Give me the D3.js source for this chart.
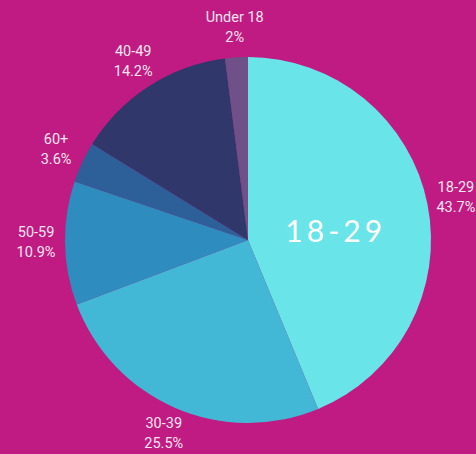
<!DOCTYPE html>
<html>
<head>
<meta charset="utf-8">
<script src="https://cdn.jsdelivr.net/npm/d3@7"></script>
<style>
  html, body { margin: 0; padding: 0; background: #C01B82; }
  svg { display: block; }
</style>
</head>
<body>
<svg id="chart" width="476" height="454"></svg>
<script>
const categories = ["18-29", "30-39", "50-59", "60+", "40-49", "Under 18"];
const values = [43.7, 25.5, 10.9, 3.6, 14.2, 2];
const valueLabels = ["43.7%", "25.5%", "10.9%", "3.6%", "14.2%", "2%"];
const colors = ["#69E4E8", "#42B8D6", "#2E8CBE", "#2D5F98", "#2F376B", "#6F5088"];
const highlight = "18-29";

const width = 476, height = 454;
const cx = 248, cy = 240, radius = 183, labelRadius = 212;

const svg = d3.select("#chart");
svg.append("rect").attr("width", width).attr("height", height).attr("fill", "#C01B82");

const data = categories.map((c, i) => ({ cat: c, value: values[i], label: valueLabels[i], color: colors[i] }));

const pie = d3.pie().value(d => d.value).sort(null);
const arcs = pie(data);
const arc = d3.arc().innerRadius(0).outerRadius(radius);
const labelArc = d3.arc().innerRadius(labelRadius).outerRadius(labelRadius);

const g = svg.append("g").attr("transform", `translate(${cx},${cy})`);

g.selectAll("path.slice")
  .data(arcs)
  .join("path")
  .attr("class", "slice")
  .attr("d", arc)
  .attr("fill", d => d.data.color);

const labels = g.selectAll("g.lbl")
  .data(arcs)
  .join("g")
  .attr("class", "lbl")
  .attr("transform", d => `translate(${labelArc.centroid(d)})`);

labels.append("text")
  .attr("text-anchor", "middle")
  .attr("dominant-baseline", "middle")
  .attr("y", -10)
  .attr("font-family", "Roboto, 'Noto Sans', sans-serif")
  .attr("font-size", 14.5)
  .attr("fill", "#F7E4EF")
  .text(d => d.data.cat);

labels.append("text")
  .attr("text-anchor", "middle")
  .attr("dominant-baseline", "middle")
  .attr("y", 10)
  .attr("font-family", "Roboto, 'Noto Sans', sans-serif")
  .attr("font-size", 14.5)
  .attr("fill", "#F7E4EF")
  .text(d => d.data.label);

// Big highlight label inside the largest slice
const hl = arcs.find(a => a.data.cat === highlight);
const inner = d3.arc().innerRadius(radius * 0.55).outerRadius(radius * 0.55);
const [hx, hy] = inner.centroid(hl);
g.append("text")
  .attr("x", hx - 11)
  .attr("y", hy + 14)
  .attr("text-anchor", "middle")
  .attr("dominant-baseline", "middle")
  .attr("font-family", "Lato, 'Open Sans', sans-serif")
  .attr("font-weight", 400)
  .attr("font-size", 30)
  .attr("letter-spacing", 4)
  .attr("fill", "#FFFFFF")
  .text(highlight);
</script>
</body>
</html>
